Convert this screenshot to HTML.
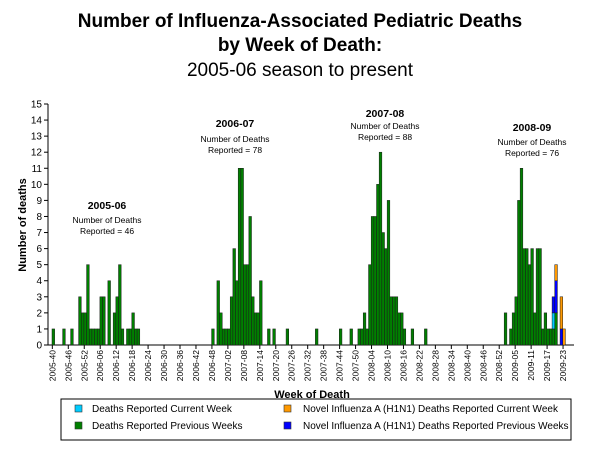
<!DOCTYPE html>
<html><head><meta charset="utf-8"><style>
body{margin:0;background:#fff;}
svg{display:block;font-family:"Liberation Sans",Arial,sans-serif;}
</style></head><body>
<svg id="chart" width="600" height="450" viewBox="0 0 600 450">
<text x="300" y="27" text-anchor="middle" font-size="19" font-weight="bold">Number of Influenza-Associated Pediatric Deaths</text>
<text x="300" y="51" text-anchor="middle" font-size="19" font-weight="bold">by Week of Death:</text>
<text x="300" y="76" text-anchor="middle" font-size="19">2005-06 season to present</text>
<text transform="translate(26,225) rotate(-90)" text-anchor="middle" font-size="11" font-weight="bold">Number of deaths</text>
<text x="312" y="398" text-anchor="middle" font-size="11" font-weight="bold">Week of Death</text>
<g id="axes"></g>
<g id="bars"></g>
<g id="ann" font-size="8.5" text-anchor="middle">
<text x="107" y="209" font-size="10.5" font-weight="bold">2005-06</text>
<text x="107" y="223">Number of Deaths</text>
<text x="107" y="234">Reported = 46</text>
<text x="235" y="127" font-size="10.5" font-weight="bold">2006-07</text>
<text x="235" y="142">Number of Deaths</text>
<text x="235" y="153">Reported = 78</text>
<text x="385" y="117" font-size="10.5" font-weight="bold">2007-08</text>
<text x="385" y="129">Number of Deaths</text>
<text x="385" y="140">Reported = 88</text>
<text x="532" y="131" font-size="10.5" font-weight="bold">2008-09</text>
<text x="532" y="145">Number of Deaths</text>
<text x="532" y="156">Reported = 76</text>
</g>
<g font-size="10">
<rect x="61" y="399" width="510" height="41" fill="#fff" stroke="#000" stroke-width="1"/>
<rect x="75" y="405" width="7" height="7" fill="#00ccff" stroke="#333" stroke-width="0.6"/>
<text x="92" y="412">Deaths Reported Current Week</text>
<rect x="75" y="422" width="7" height="7" fill="#008000" stroke="#333" stroke-width="0.6"/>
<text x="92" y="429">Deaths Reported Previous Weeks</text>
<rect x="284" y="405" width="7" height="7" fill="#ff9900" stroke="#333" stroke-width="0.6"/>
<text x="303" y="412">Novel Influenza A (H1N1) Deaths Reported Current Week</text>
<rect x="284" y="422" width="7" height="7" fill="#0000ff" stroke="#333" stroke-width="0.6"/>
<text x="303" y="429">Novel Influenza A (H1N1) Deaths Reported Previous Weeks</text>
</g>
</svg>
<script>
// week indices (0 = 2005-40) and counts
const greenWeeks = [0,4,7,10,11,12,13,14,15,16,17,18,19,21,23,24,25,26,28,29,30,31,32,
 60,62,63,64,65,66,67,68,69,70,71,72,73,74,75,76,77,78,81,83,88,99,
 108,112,115,116,117,118,119,120,121,122,123,124,125,126,127,128,129,130,131,132,135,140,
 170,172,173,174,175,176,177,178,179,180,181,182,183,184,185,186,187,188,189];
const greenVals = [1,1,1,3,2,2,5,1,1,1,1,3,3,4,2,3,5,1,1,1,2,1,1,
 1,4,2,1,1,1,3,6,4,11,11,5,5,8,3,2,2,4,1,1,1,1,
 1,1,1,1,2,1,5,8,8,10,12,7,6,9,3,3,3,2,2,1,1,1,
 2,1,2,3,9,11,6,6,5,6,2,6,6,1,2,1,1,1,2];
const cyanWeeks = [188];
const cyanVals = [1];
const blueWeeks = [188,189,191];
const blueVals = [1,2,1];
const orangeWeeks = [189,191,192];
const orangeVals = [1,2,1];
const yTicks = [0,1,2,3,4,5,6,7,8,9,10,11,12,13,14,15];
const xTickWeeks = [0,6,12,18,24,30,36,42,48,54,60,66,72,78,84,90,96,102,108,114,120,126,132,138,144,150,156,162,168,174,180,186,192];
const xTickLabels = ["2005-40","2005-46","2005-52","2006-06","2006-12","2006-18","2006-24","2006-30","2006-36","2006-42","2006-48","2007-02","2007-08","2007-14","2007-20","2007-26","2007-32","2007-38","2007-44","2007-50","2008-04","2008-10","2008-16","2008-22","2008-28","2008-34","2008-40","2008-46","2008-52","2009-05","2009-11","2009-17","2009-23"];

const NS = "http://www.w3.org/2000/svg";
const X0 = 48, Y0 = 345, YTOP = 104, BW = 2.66;
function xLeft(i){ return 52 + BW * i; }
function yPos(v){ return Y0 - (Y0 - YTOP) * v / 15; }
function mk(tag, attrs, parent){ const e = document.createElementNS(NS, tag); for (const k in attrs) e.setAttribute(k, attrs[k]); parent.appendChild(e); return e; }

const axes = document.getElementById('axes');
const bars = document.getElementById('bars');
const yl = mk('line', {x1:X0, y1:YTOP, x2:X0, y2:Y0, stroke:'#000', 'stroke-width':1}, axes);


const xl = mk('line', {x1:X0, y1:Y0, x2:574, y2:Y0, stroke:'#000', 'stroke-width':1}, axes);


yTicks.forEach(v => {
  const y = yPos(v);
  mk('line', {x1:X0-4, y1:y, x2:X0, y2:y, stroke:'#000', 'stroke-width':1}, axes);
  const t = mk('text', {x:X0-6, y:y+3.5, 'text-anchor':'end', 'font-size':10}, axes);
  t.textContent = v;
  
  
});
xTickWeeks.forEach((w, k) => {
  const x = xLeft(w) + BW / 2 - 1;
  mk('line', {x1:x, y1:Y0, x2:x, y2:Y0+4, stroke:'#000', 'stroke-width':1}, axes);
  const t = mk('text', {transform:`translate(${x+3},${Y0+5}) rotate(-90)`, 'text-anchor':'end', 'font-size':8.5}, axes);
  t.textContent = xTickLabels[k];
  
  
});
// stacked bars
const base = {};
function drawSeries(weeks, vals, color, name){
  weeks.forEach((w, k) => {
    const b = base[w] || 0, v = vals[k];
    if (!v) return;
    const r = mk('rect', {x:xLeft(w), y:yPos(b+v), width:BW, height:yPos(b)-yPos(b+v), fill:color, stroke:'#1a1a1a', 'stroke-width':0.5}, bars);
    
    
    base[w] = b + v;
  });
}
drawSeries(greenWeeks, greenVals, '#008000', 'bar-previous-weeks');
drawSeries(cyanWeeks, cyanVals, '#00ccff', 'bar-current-week');
drawSeries(blueWeeks, blueVals, '#0000ff', 'bar-h1n1-previous-weeks');
drawSeries(orangeWeeks, orangeVals, '#ff9900', 'bar-h1n1-current-week');
</script>
</body></html>
